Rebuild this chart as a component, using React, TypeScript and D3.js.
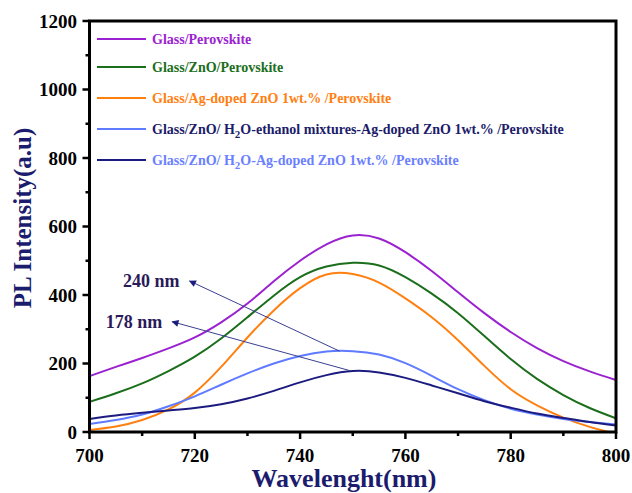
import React from "react";
import * as d3 from "d3";

const wavelengths = [700, 705, 710, 715, 720, 725, 730, 735, 740, 745, 750, 755, 760, 765, 770, 775, 780, 785, 790, 795, 800];
const glassPerovskite = [163, 190, 216, 244, 276, 320, 375, 440, 500, 548, 574, 565, 525, 470, 408, 347, 292, 245, 207, 177, 152];
const glassZnO = [88, 113, 142, 178, 220, 273, 335, 398, 452, 483, 494, 486, 452, 404, 347, 280, 213, 155, 108, 70, 40];
const glassAgZnO = [6, 16, 35, 66, 115, 190, 276, 355, 420, 460, 461, 436, 390, 335, 268, 193, 125, 78, 42, 15, -5];
const ethanolAgZnO = [23, 35, 51, 75, 104, 138, 171, 200, 222, 235, 236, 226, 201, 164, 125, 93, 68, 51, 38, 29, 22];
const waterAgZnO = [38, 48, 56, 63, 70, 81, 98, 120, 145, 166, 178, 174, 158, 136, 113, 90, 71, 54, 41, 29, 19];

const xTicks = [700, 720, 740, 760, 780, 800];
const xMinor = [710, 730, 750, 770, 790];
const yTicks = [0, 200, 400, 600, 800, 1000, 1200];
const yMinor = [100, 300, 500, 700, 900, 1100];

const seriesNames = [
  "Glass/Perovskite",
  "Glass/ZnO/Perovskite",
  "Glass/Ag-doped ZnO 1wt.% /Perovskite",
  "Glass/ZnO/ H2O-ethanol mixtures-Ag-doped ZnO 1wt.% /Perovskite",
  "Glass/ZnO/ H2O-Ag-doped ZnO 1wt.% /Perovskite",
];
const seriesValues = [glassPerovskite, glassZnO, glassAgZnO, ethanolAgZnO, waterAgZnO];
const lineColors = ["#9b22d0", "#1b6e1b", "#ff8010", "#5f7bff", "#1c1c80"];
const textColors = ["#9b22d0", "#1b6e1b", "#ff8010", "#1c1c6a", "#6a80ff"];

const annotations = [
  { label: "240 nm", from: [747.5, 236], to: [719, 441] },
  { label: "178 nm", from: [749.5, 179], to: [715.7, 322] },
];

const FONT = "'Liberation Serif', 'Times New Roman', serif";

function renderLabel(name: string) {
  const idx = name.indexOf("H2O");
  if (idx < 0) return name;
  return (
    <>
      {name.slice(0, idx)}H
      <tspan dy={4} fontSize={11}>2</tspan>
      <tspan dy={-4}>{name.slice(idx + 2)}</tspan>
    </>
  );
}

export default function App() {
  const W = 632, H = 493;
  const left = 89.5, right = 616, top = 21, bottom = 432;
  const x = d3.scaleLinear().domain([700, 800]).range([left, right]);
  const y = d3.scaleLinear().domain([0, 1200]).range([bottom, top]);
  const line = d3
    .line<number>()
    .x((_, i) => x(wavelengths[i]))
    .y((d) => y(d))
    .curve(d3.curveNatural);

  const legendY = [39, 67, 98, 129, 160];

  return (
    <svg width={W} height={H} style={{ position: "absolute", left: 0, top: 0 }} fontFamily={FONT}>
      <defs>
        <clipPath id="plot">
          <rect x={left} y={top} width={right - left} height={bottom - top} />
        </clipPath>
        <marker id="arrow" viewBox="0 0 10 10" refX="9" refY="5" markerWidth="9" markerHeight="7" orient="auto-start-reverse" markerUnits="userSpaceOnUse">
          <path d="M0,0 L10,5 L0,10 z" fill="#1c1c80" />
        </marker>
      </defs>
      <rect width={W} height={H} fill="#fff" />
      <g clipPath="url(#plot)">
        {seriesValues.map((vals, i) => (
          <path key={i} d={line(vals) || ""} fill="none" stroke={lineColors[i]} strokeWidth={2} />
        ))}
      </g>
      {annotations.map((a, i) => (
        <g key={i}>
          <line x1={x(a.from[0])} y1={y(a.from[1])} x2={x(a.to[0])} y2={y(a.to[1])} stroke="#3a3f90" strokeWidth={1} markerEnd="url(#arrow)" />
          <text x={x(a.to[0]) - 10} y={y(a.to[1])} dy="0.35em" textAnchor="end" fontWeight="bold" fontSize={18} fill="#2a1a5a">{a.label}</text>
        </g>
      ))}
      {/* frame */}
      <rect x={left} y={top} width={right - left} height={bottom - top} fill="none" stroke="#000" strokeWidth={3} />
      {/* x ticks */}
      {xTicks.map((t) => (
        <g key={t}>
          <line x1={x(t)} x2={x(t)} y1={bottom} y2={bottom + 7} stroke="#000" strokeWidth={2.5} />
          <text x={x(t)} y={462} textAnchor="middle" fontWeight="bold" fontSize={19} fill="#000">{t}</text>
        </g>
      ))}
      {xMinor.map((t) => (
        <line key={t} x1={x(t)} x2={x(t)} y1={bottom} y2={bottom + 4} stroke="#000" strokeWidth={2.5} />
      ))}
      {yTicks.map((t) => (
        <g key={t}>
          <line x1={left - 7} x2={left} y1={y(t)} y2={y(t)} stroke="#000" strokeWidth={2.5} />
          <text x={77} y={y(t)} dy="0.35em" textAnchor="end" fontWeight="bold" fontSize={19} fill="#000">{t}</text>
        </g>
      ))}
      {yMinor.map((t) => (
        <line key={t} x1={left - 4} x2={left} y1={y(t)} y2={y(t)} stroke="#000" strokeWidth={2.5} />
      ))}
      {/* axis titles */}
      <text transform={`translate(22,${218}) rotate(-90)`} textAnchor="middle" dy="0.35em" fontWeight="bold" fontSize={25} fill="#1c1c6e">PL Intensity(a.u)</text>
      <text x={344} y={487} textAnchor="middle" fontWeight="bold" fontSize={26} fill="#1c1c6e">Wavelenght(nm)</text>
      {/* legend */}
      {seriesNames.map((name, i) => (
        <g key={i}>
          <line x1={97} x2={146} y1={legendY[i]} y2={legendY[i]} stroke={lineColors[i]} strokeWidth={2} />
          <text x={152} y={legendY[i]} dy="0.35em" fontWeight="bold" fontSize={14} fill={textColors[i]}>{renderLabel(name)}</text>
        </g>
      ))}
    </svg>
  );
}
